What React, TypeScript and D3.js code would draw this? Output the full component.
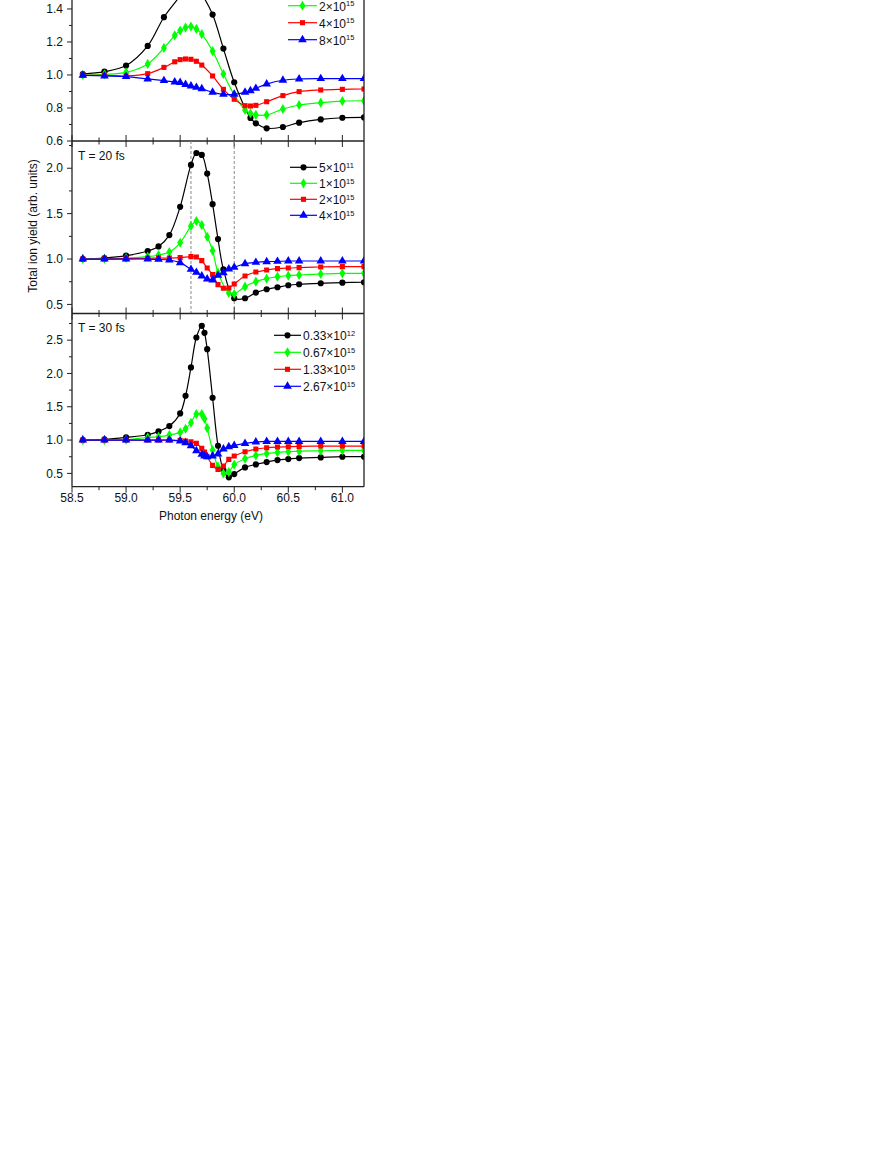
import React from "react";
import * as d3 from "d3";

// ---------- DATA ----------
const xTicksMajor = [58.5, 59.0, 59.5, 60.0, 60.5, 61.0];
const xTicksMinor = [58.75, 59.25, 59.75, 60.25, 60.75];
const xDomain = [58.5, 61.2];

// Panel 1 (T = 10 fs, top of panel is cropped off the page)
const p1BlackE = [58.6, 58.8, 59.0, 59.2, 59.35, 59.5, 59.6, 59.7, 59.8, 59.9, 60.0, 60.15, 60.2, 60.3, 60.45, 60.6, 60.8, 61.0, 61.2];
const p1Black = [1.006, 1.02, 1.057, 1.176, 1.35, 1.48, 1.58, 1.49, 1.366, 1.16, 0.956, 0.74, 0.707, 0.677, 0.685, 0.711, 0.731, 0.741, 0.743];
const p1E = [58.6, 58.8, 59.0, 59.2, 59.35, 59.45, 59.5, 59.55, 59.6, 59.65, 59.7, 59.8, 59.9, 60.0, 60.1, 60.15, 60.2, 60.3, 60.45, 60.6, 60.8, 61.0, 61.2];
const p1Green = [1.0, 1.004, 1.016, 1.067, 1.164, 1.24, 1.269, 1.287, 1.293, 1.279, 1.248, 1.145, 1.006, 0.88, 0.788, 0.768, 0.758, 0.758, 0.794, 0.818, 0.832, 0.842, 0.844];
const p1Red = [0.998, 0.998, 0.994, 1.008, 1.046, 1.08, 1.093, 1.097, 1.095, 1.083, 1.06, 0.994, 0.913, 0.853, 0.814, 0.812, 0.816, 0.838, 0.875, 0.899, 0.909, 0.913, 0.915];
const p1Blue = [0.998, 0.994, 0.99, 0.976, 0.966, 0.958, 0.954, 0.942, 0.933, 0.925, 0.917, 0.895, 0.883, 0.883, 0.895, 0.905, 0.919, 0.945, 0.968, 0.976, 0.978, 0.978, 0.978];
// first legend row lies above the visible page; only the three visible rows are kept
const p1Labels = [null, ["2", "15"], ["4", "15"], ["8", "15"]];
const p1YTicks = [0.6, 0.8, 1.0, 1.2, 1.4];
const p1YMinor = [0.7, 0.9, 1.1, 1.3, 1.5];

// Panel 2 (T = 20 fs)
const p2BlackE = [58.6, 58.8, 59.0, 59.2, 59.3, 59.4, 59.5, 59.6, 59.65, 59.7, 59.75, 59.8, 59.85, 59.9, 60.0, 60.1, 60.2, 60.3, 60.4, 60.5, 60.6, 60.8, 61.0, 61.2];
const p2Black = [1.0, 1.011, 1.037, 1.088, 1.139, 1.264, 1.575, 2.037, 2.168, 2.147, 1.941, 1.604, 1.22, 0.886, 0.568, 0.568, 0.63, 0.667, 0.689, 0.711, 0.722, 0.733, 0.74, 0.744];
const p2GreenE = [58.6, 58.8, 59.0, 59.2, 59.3, 59.4, 59.5, 59.6, 59.65, 59.7, 59.75, 59.8, 59.85, 59.95, 60.0, 60.1, 60.2, 60.3, 60.4, 60.5, 60.6, 60.8, 61.0, 61.2];
const p2Green = [1.0, 1.004, 1.011, 1.026, 1.044, 1.077, 1.179, 1.363, 1.418, 1.374, 1.245, 1.092, 0.85, 0.626, 0.615, 0.696, 0.751, 0.784, 0.806, 0.817, 0.824, 0.835, 0.842, 0.842];
const p2E = [58.6, 58.8, 59.0, 59.2, 59.3, 59.4, 59.5, 59.6, 59.65, 59.7, 59.75, 59.8, 59.85, 59.9, 59.95, 60.0, 60.1, 60.2, 60.3, 60.4, 60.5, 60.6, 60.8, 61.0, 61.2];
const p2Red = [1.0, 1.0, 1.004, 1.007, 1.011, 1.011, 1.015, 1.026, 1.022, 0.982, 0.901, 0.828, 0.718, 0.678, 0.681, 0.725, 0.813, 0.857, 0.879, 0.894, 0.901, 0.905, 0.912, 0.916, 0.916];
const p2Blue = [1.0, 1.0, 1.0, 1.0, 0.996, 0.989, 0.96, 0.886, 0.853, 0.813, 0.78, 0.769, 0.82, 0.85, 0.89, 0.908, 0.949, 0.963, 0.971, 0.974, 0.978, 0.978, 0.978, 0.978, 0.978];
const p2Labels = [["5", "11"], ["1", "15"], ["2", "15"], ["4", "15"]];
const p2YTicks = [0.5, 1.0, 1.5, 2.0];
const p2YMinor = [0.75, 1.25, 1.75, 2.25];

// Panel 3 (T = 30 fs)
const p3E = [58.6, 58.8, 59.0, 59.2, 59.3, 59.4, 59.5, 59.55, 59.6, 59.65, 59.7, 59.725, 59.75, 59.8, 59.85, 59.9, 59.95, 60.0, 60.1, 60.2, 60.3, 60.4, 60.5, 60.6, 60.8, 61.0, 61.2];
const p3Black = [1.0, 1.01, 1.04, 1.08, 1.13, 1.21, 1.4, 1.665, 2.09, 2.54, 2.715, 2.61, 2.365, 1.635, 0.915, 0.55, 0.44, 0.49, 0.59, 0.635, 0.67, 0.7, 0.715, 0.73, 0.74, 0.75, 0.75];
const p3Green = [1.0, 1.0, 1.005, 1.04, 1.05, 1.075, 1.115, 1.17, 1.26, 1.39, 1.39, 1.32, 1.18, 0.85, 0.6, 0.5, 0.52, 0.63, 0.72, 0.77, 0.8, 0.815, 0.825, 0.835, 0.84, 0.845, 0.845];
const p3Red = [1.0, 1.0, 1.0, 1.0, 1.0, 1.0, 0.995, 0.985, 0.975, 0.95, 0.875, 0.82, 0.75, 0.62, 0.56, 0.61, 0.71, 0.76, 0.825, 0.865, 0.885, 0.895, 0.9, 0.905, 0.91, 0.91, 0.91];
const p3Blue = [1.0, 1.0, 1.0, 1.0, 1.0, 1.0, 0.985, 0.96, 0.915, 0.84, 0.785, 0.76, 0.75, 0.76, 0.79, 0.865, 0.9, 0.92, 0.95, 0.97, 0.98, 0.98, 0.98, 0.98, 0.98, 0.98, 0.98];
const p3Labels = [["0.33", "12"], ["0.67", "15"], ["1.33", "15"], ["2.67", "15"]];
const p3YTicks = [0.5, 1.0, 1.5, 2.0, 2.5];
const p3YMinor = [0.75, 1.25, 1.75, 2.25, 2.75];

const dashedLines = [59.6, 60.0];

// ---------- STYLE ----------
const COLORS = ["#000000", "#00ff00", "#ff0000", "#0000ff"];
const SYMBOLS = [d3.symbolCircle, d3.symbolDiamond, d3.symbolSquare, d3.symbolTriangle];
const SIZES = [30, 30, 26, 32];
const FONT = "Liberation Sans, Arial, Helvetica, sans-serif";

const LEFT = 72;
const RIGHT = 364;

type Series = { e: number[]; v: number[] };

interface PanelCfg {
  top: number;
  bottom: number;
  yDomain: [number, number];
  yTicks: number[];
  yMinor: number[];
  series: Series[];
  labels: (string[] | null)[];
  title: string | null;
  legendX1: number;
  legendX2: number;
  legendY0: number;
  legendDy: number;
  bottomAxisOut: boolean;
  dashed: boolean;
}

const panels: PanelCfg[] = [
  {
    top: -32.3, bottom: 141, yDomain: [0.6, 1.65], yTicks: p1YTicks, yMinor: p1YMinor,
    series: [{ e: p1BlackE, v: p1Black }, { e: p1E, v: p1Green }, { e: p1E, v: p1Red }, { e: p1E, v: p1Blue }],
    labels: p1Labels, title: null, legendX1: 288, legendX2: 317, legendY0: -11.3, legendDy: 17, bottomAxisOut: false, dashed: false,
  },
  {
    top: 141, bottom: 313.5, yDomain: [0.4, 2.3], yTicks: p2YTicks, yMinor: p2YMinor,
    series: [{ e: p2BlackE, v: p2Black }, { e: p2GreenE, v: p2Green }, { e: p2E, v: p2Red }, { e: p2E, v: p2Blue }],
    labels: p2Labels, title: "T = 20 fs", legendX1: 290, legendX2: 317, legendY0: 167.3, legendDy: 16, bottomAxisOut: false, dashed: true,
  },
  {
    top: 313.5, bottom: 486.7, yDomain: [0.3, 2.9], yTicks: p3YTicks, yMinor: p3YMinor,
    series: [{ e: p3E, v: p3Black }, { e: p3E, v: p3Green }, { e: p3E, v: p3Red }, { e: p3E, v: p3Blue }],
    labels: p3Labels, title: "T = 30 fs", legendX1: 274, legendX2: 301, legendY0: 335.3, legendDy: 17, bottomAxisOut: true, dashed: false,
  },
];

const x = d3.scaleLinear().domain(xDomain).range([LEFT, RIGHT]);

function Panel({ cfg, idx }: { cfg: PanelCfg; idx: number }) {
  const y = d3.scaleLinear().domain(cfg.yDomain).range([cfg.bottom, cfg.top]);
  const line = d3
    .line<[number, number]>()
    .x((d) => x(d[0]))
    .y((d) => y(d[1]))
    .curve(d3.curveCatmullRom.alpha(0.5));
  const clipId = `clip${idx}`;
  const axisColor = "#222";
  const top = Math.max(cfg.top, 0);
  return (
    <g>
      <defs>
        <clipPath id={clipId}>
          <rect x={LEFT} y={cfg.top} width={RIGHT - LEFT} height={cfg.bottom - cfg.top} />
        </clipPath>
      </defs>
      {cfg.dashed &&
        dashedLines.map((d) => (
          <line key={d} x1={x(d)} x2={x(d)} y1={cfg.top} y2={cfg.bottom} stroke="#888" strokeWidth={1} strokeDasharray="3,2" />
        ))}
      <g clipPath={`url(#${clipId})`}>
        {cfg.series.map((s, i) => {
          const pts: [number, number][] = s.e.map((e, k) => [e, s.v[k]]);
          return (
            <g key={i}>
              <path d={line(pts) || ""} fill="none" stroke={COLORS[i]} strokeWidth={1.2} />
              {pts.map((p, k) => (
                <path
                  key={k}
                  d={d3.symbol(SYMBOLS[i], SIZES[i])() || ""}
                  transform={`translate(${x(p[0])},${y(p[1])})`}
                  fill={COLORS[i]}
                />
              ))}
            </g>
          );
        })}
      </g>
      {/* Axes frame */}
      <line x1={LEFT} x2={LEFT} y1={top} y2={cfg.bottom} stroke={axisColor} strokeWidth={1.3} />
      <line x1={RIGHT} x2={RIGHT} y1={top} y2={cfg.bottom} stroke={axisColor} strokeWidth={1.3} />
      <line x1={LEFT} x2={RIGHT} y1={cfg.bottom} y2={cfg.bottom} stroke={axisColor} strokeWidth={1.3} />
      {/* y ticks */}
      {cfg.yTicks.map((t) => (
        <g key={`y${t}`}>
          <line x1={LEFT - 5} x2={LEFT} y1={y(t)} y2={y(t)} stroke={axisColor} strokeWidth={1} />
          <text x={LEFT - 9} y={y(t) + 4.2} textAnchor="end" fontSize={12} fontFamily={FONT} fill="#111">
            {t.toFixed(1)}
          </text>
        </g>
      ))}
      {cfg.yMinor.map((t) => (
        <line key={`ym${t}`} x1={LEFT - 3} x2={LEFT} y1={y(t)} y2={y(t)} stroke={axisColor} strokeWidth={1} />
      ))}
      {/* x ticks at bottom */}
      {xTicksMajor.map((t) => (
        <line
          key={`x${t}`}
          x1={x(t)} x2={x(t)}
          y1={cfg.bottomAxisOut ? cfg.bottom : cfg.bottom - 6}
          y2={cfg.bottom + 6}
          stroke={axisColor} strokeWidth={1}
        />
      ))}
      {xTicksMinor.map((t) => (
        <line
          key={`xm${t}`}
          x1={x(t)} x2={x(t)}
          y1={cfg.bottomAxisOut ? cfg.bottom : cfg.bottom - 3.5}
          y2={cfg.bottom + 3.5}
          stroke={axisColor} strokeWidth={1}
        />
      ))}
      {/* title */}
      {cfg.title && (
        <text x={78} y={cfg.top + 18.5} fontSize={12} fontFamily={FONT} fill="#111">
          {cfg.title}
        </text>
      )}
      {/* legend */}
      {cfg.labels.map((lab, i) => {
        if (!lab) return null;
        const ly = cfg.legendY0 + i * cfg.legendDy;
        const mx = (cfg.legendX1 + cfg.legendX2) / 2;
        return (
          <g key={`lg${i}`}>
            <line x1={cfg.legendX1} x2={cfg.legendX2} y1={ly} y2={ly} stroke={COLORS[i]} strokeWidth={1.2} />
            <path d={d3.symbol(SYMBOLS[i], SIZES[i])() || ""} transform={`translate(${mx},${ly})`} fill={COLORS[i]} />
            <text x={cfg.legendX2 + 2} y={ly + 4.8} fontSize={12} fontFamily={FONT} fill="#111">
              {lab[0]}×10
              <tspan dy={-4.5} fontSize={7.5}>
                {lab[1]}
              </tspan>
            </text>
          </g>
        );
      })}
    </g>
  );
}

export default function App() {
  return (
    <svg
      width={893}
      height={1155}
      style={{ position: "absolute", left: 0, top: 0, background: "#fff" }}
    >
      <rect x={0} y={0} width={893} height={1155} fill="#fff" />
      {panels.map((p, i) => (
        <Panel key={i} cfg={p} idx={i} />
      ))}
      {xTicksMajor.map((t) => (
        <text key={`xl${t}`} x={x(t)} y={502} textAnchor="middle" fontSize={12} fontFamily={FONT} fill="#111">
          {t.toFixed(1)}
        </text>
      ))}
      <text x={211} y={520} textAnchor="middle" fontSize={12} fontFamily={FONT} fill="#111">
        Photon energy (eV)
      </text>
      <text
        transform="translate(37,226) rotate(-90)"
        textAnchor="middle"
        fontSize={12}
        fontFamily={FONT}
        fill="#111"
      >
        Total ion yield (arb. units)
      </text>
    </svg>
  );
}
